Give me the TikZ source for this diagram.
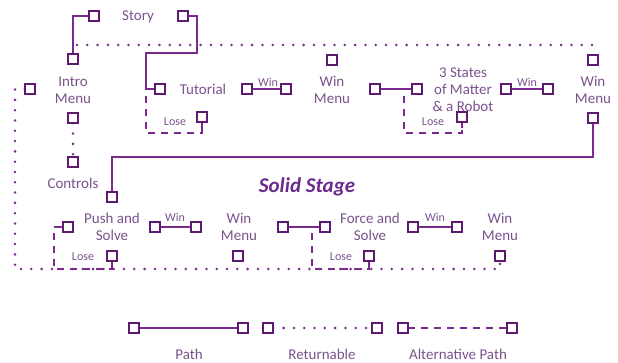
\documentclass[tikz,border=0pt]{standalone}
\usepackage{fontspec}
\setmainfont{Carlito}
\definecolor{ln}{HTML}{7A2A8C}
\definecolor{pt}{HTML}{5E1A70}
\definecolor{tx}{HTML}{7A528C}
\definecolor{ttl}{HTML}{6A2A8C}
\tikzset{
 port/.style={draw=pt, fill=white, line width=2.1pt, minimum size=8.5pt, inner sep=0pt, rectangle},
 lbl/.style={text=tx, font=\fontsize{15}{17}\selectfont, align=center, inner sep=0pt},
 sm/.style={text=tx, font=\fontsize{12}{14}\selectfont, inner sep=0pt},
 pathl/.style={draw=ln, line width=2.5pt},
 ret/.style={draw=ln, line width=2.8pt, line cap=round, dash pattern=on 0pt off 10.3pt},
 alt/.style={draw=ln, line width=2.5pt, dash pattern=on 7pt off 6pt},
}
\begin{document}
\begin{tikzpicture}[x=1pt,y=-1pt]
\useasboundingbox (0,0) rectangle (618,363);
% ports
\node[port] (sL) at (94,16) {};
\node[port] (sR) at (183,16) {};
\node[port] (iT) at (73,59) {};
\node[port] (iB) at (73,118) {};
\node[port] (cT) at (73,162) {};
\node[port] (iL) at (30,89) {};
\node[port] (tL) at (160,89) {};
\node[port] (tLo) at (202,117) {};
\node[port] (tW1) at (247,89) {};
\node[port] (tW2) at (286,89) {};
\node[port] (wm1T) at (332,60) {};
\node[port] (mL) at (375,89) {};
\node[port] (mR) at (417,89) {};
\node[port] (mLo) at (462,117) {};
\node[port] (mW1) at (506,89) {};
\node[port] (mW2) at (548,89) {};
\node[port] (wm2T) at (593,60) {};
\node[port] (wm2B) at (593,118) {};
\node[port] (pT) at (112,197) {};
\node[port] (pL) at (68,227) {};
\node[port] (pLo) at (112,256) {};
\node[port] (pW1) at (155,227) {};
\node[port] (pW2) at (196,227) {};
\node[port] (wm3B) at (238,256) {};
\node[port] (fL) at (283,227) {};
\node[port] (fR) at (325,227) {};
\node[port] (fLo) at (369,256) {};
\node[port] (fW1) at (413,227) {};
\node[port] (fW2) at (457,227) {};
\node[port] (wm4B) at (500,256) {};
\node[port] (a1) at (134,328) {};
\node[port] (a2) at (243,328) {};
\node[port] (b1) at (268,328) {};
\node[port] (b2) at (377,328) {};
\node[port] (c1) at (403,328) {};
\node[port] (c2) at (512,328) {};
% solid paths
\draw[pathl] (sL.west) -| (iT.north);
\draw[pathl] (sR.east) -| (197,53) -| (146,89) -- (tL.west);
\draw[pathl] (tW1.east) -- (tW2.west);
\draw[pathl] (mL.east) -- (mR.west);
\draw[pathl] (mW1.east) -- (mW2.west);
\draw[pathl] (wm2B.south) -- (593,157) -| (pT.north);
\draw[pathl] (pL.west) -- (54,227);
\draw[pathl] (pW1.east) -- (pW2.west);
\draw[pathl] (fL.east) -- (fR.west);
\draw[pathl] (fW1.east) -- (fW2.west);
\draw[pathl] (a1.east) -- (a2.west);
% lose stems
\draw[pathl] (tLo.south) -- ++(0,6);
\draw[pathl] (mLo.south) -- ++(0,6);
\draw[pathl] (pLo.south) -- ++(0,6);
\draw[pathl] (fLo.south) -- ++(0,6);
% returnable (dotted)
\draw[ret] (77,45) -- (wm2T.north |- 0,45);
\draw[ret] (iB.south) -- (cT.north);
\draw[ret] (iL.west) -- (15,89) -- (15,269) -- (500,269) -- (wm4B.south);
\draw[ret] (b1.east) -- (b2.west);
% alternative (dashed)
\draw[alt] (146,96) -- (146,133) -| (tLo.south);
\draw[alt] (404,96) -- (404,133) -| (mLo.south);
\draw[alt] (54,233) -- (54,269) -| (pLo.south);
\draw[alt] (312,233) -- (312,269) -| (fLo.south);
\draw[alt] (c1.east) -- (c2.west);
% redraw ports on top
\foreach \n in {sL,sR,iT,iB,cT,iL,tL,tLo,tW1,tW2,wm1T,mL,mR,mLo,mW1,mW2,wm2T,wm2B,pT,pL,pLo,pW1,pW2,wm3B,fL,fR,fLo,fW1,fW2,wm4B,a1,a2,b1,b2,c1,c2}
  \draw[draw=pt, fill=white, line width=2.1pt] (\n.south west) rectangle (\n.north east);
% labels
\node[lbl] (story) at (138,17) {Story};
\node[lbl] (intro) at (73,90) {Intro\\Menu};
\node[lbl] (ctrl) at (73,183) {Controls};
\node[lbl] (tut) at (203,89) {Tutorial};
\node[sm] (w1) at (268,82) {Win};
\node[sm] (l1) at (175,122) {Lose};
\node[lbl] (wm1) at (332,90) {Win\\Menu};
\node[lbl] (states) at (463,90) {3 States\\of Matter\\\& a Robot};
\node[sm] (l2) at (433,122) {Lose};
\node[sm] (w2) at (527,82) {Win};
\node[lbl] (wm2) at (593,90) {Win\\Menu};
\node[text=ttl, font=\fontsize{21}{24}\selectfont\bfseries\itshape, inner sep=0pt] (title) at (307,187) {Solid Stage};
\node[lbl] (push) at (112,227) {Push and\\Solve};
\node[sm] (l3) at (83,257) {Lose};
\node[sm] (w3) at (175,217) {Win};
\node[lbl] (wm3) at (239,227) {Win\\Menu};
\node[lbl] (force) at (370,227) {Force and\\Solve};
\node[sm] (l4) at (341,257) {Lose};
\node[sm] (w4) at (435,217) {Win};
\node[lbl] (wm4) at (500,227) {Win\\Menu};
\node[lbl] (lg1) at (189,354) {Path};
\node[lbl] (lg2) at (322,354) {Returnable};
\node[lbl] (lg3) at (458,354) {Alternative Path};
\end{tikzpicture}
\end{document}
